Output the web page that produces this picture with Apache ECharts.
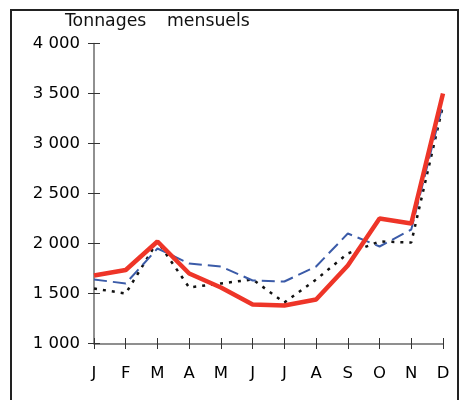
<!DOCTYPE html>
<html>
<head>
<meta charset="utf-8">
<script src="https://cdn.jsdelivr.net/npm/echarts@6/dist/echarts.min.js"></script>
<style>
  html, body { margin: 0; padding: 0; background: #fff; }
  #chart { width: 459px; height: 400px; }
</style>
</head>
<body>
<div id="chart"></div>
<script>
// Monthly tonnages, three series
const months = ['J', 'F', 'M', 'A', 'M', 'J', 'J', 'A', 'S', 'O', 'N', 'D'];
const seriesRed = [1680, 1735, 2020, 1700, 1560, 1390, 1380, 1440, 1780, 2250, 2200, 3500];
const seriesBlue = [1640, 1600, 1950, 1800, 1770, 1630, 1620, 1770, 2100, 1970, 2140, 3400];
const seriesBlack = [1550, 1500, 2020, 1560, 1600, 1640, 1410, 1640, 1900, 2020, 2010, 3380];
const yTicks = { min: 1000, max: 4000, step: 500 };
const titleWords = ['Tonnages', 'mensuels'];

const font = '"DejaVu Sans", sans-serif';
const fontSize = 16.5;
const axisGray = '#6b6b6b';
const tickColor = '#333';

function thousands(v) {
  const s = String(v);
  return s.length > 3 ? s.slice(0, s.length - 3) + ' ' + s.slice(-3) : s;
}

const titleStyle = { fontFamily: font, fontSize: 17.3, fontWeight: 'normal', color: '#111' };

const chart = echarts.init(document.getElementById('chart'), null, { renderer: 'canvas' });
chart.setOption({
  animation: false,
  backgroundColor: '#fff',
  title: [
    { text: titleWords[0], left: 65, top: 13, padding: 0, textStyle: titleStyle },
    { text: titleWords[1], left: 167, top: 13, padding: 0, textStyle: titleStyle }
  ],
  graphic: [{
    type: 'rect',
    shape: { x: 11, y: 10, width: 447, height: 400 },
    style: { fill: 'none', stroke: '#222', lineWidth: 2 },
    silent: true
  }],
  grid: { left: 94, right: 16, top: 43.5, bottom: 56.5 },
  xAxis: [{
    // main axis: line and labels
    type: 'category',
    data: months,
    boundaryGap: false,
    axisLine: { lineStyle: { color: axisGray, width: 1.5 } },
    axisTick: { show: false },
    axisLabel: { color: '#000', fontFamily: font, fontSize: fontSize, margin: 22 },
    splitLine: { show: false }
  }, {
    // tick marks crossing the axis line
    type: 'category',
    data: months,
    boundaryGap: false,
    position: 'bottom',
    offset: -5.5,
    axisLine: { show: false, onZero: false },
    axisTick: { show: true, length: 11, lineStyle: { color: tickColor, width: 1 } },
    axisLabel: { show: false },
    splitLine: { show: false }
  }],
  yAxis: [{
    type: 'value',
    min: yTicks.min,
    max: yTicks.max,
    interval: yTicks.step,
    axisLine: { show: true, lineStyle: { color: axisGray, width: 1.5 } },
    axisTick: { show: false },
    axisLabel: { color: '#000', fontFamily: font, fontSize: fontSize, margin: 14, formatter: thousands },
    splitLine: { show: false }
  }, {
    type: 'value',
    min: yTicks.min,
    max: yTicks.max,
    interval: yTicks.step,
    position: 'left',
    offset: -6,
    axisLine: { show: false, onZero: false },
    axisTick: { show: true, length: 12, lineStyle: { color: tickColor, width: 1 } },
    axisLabel: { show: false },
    splitLine: { show: false }
  }],
  series: [{
    type: 'line',
    data: seriesBlack,
    symbol: 'none',
    lineStyle: { color: '#111', width: 2.5, type: [3, 6] },
    z: 2
  }, {
    type: 'line',
    data: seriesBlue,
    symbol: 'none',
    lineStyle: { color: '#3b5ba8', width: 2, type: [13, 6] },
    z: 3
  }, {
    type: 'line',
    data: seriesRed,
    symbol: 'none',
    lineStyle: { color: '#ee3528', width: 4.5 },
    z: 4
  }]
});
</script>
</body>
</html>
